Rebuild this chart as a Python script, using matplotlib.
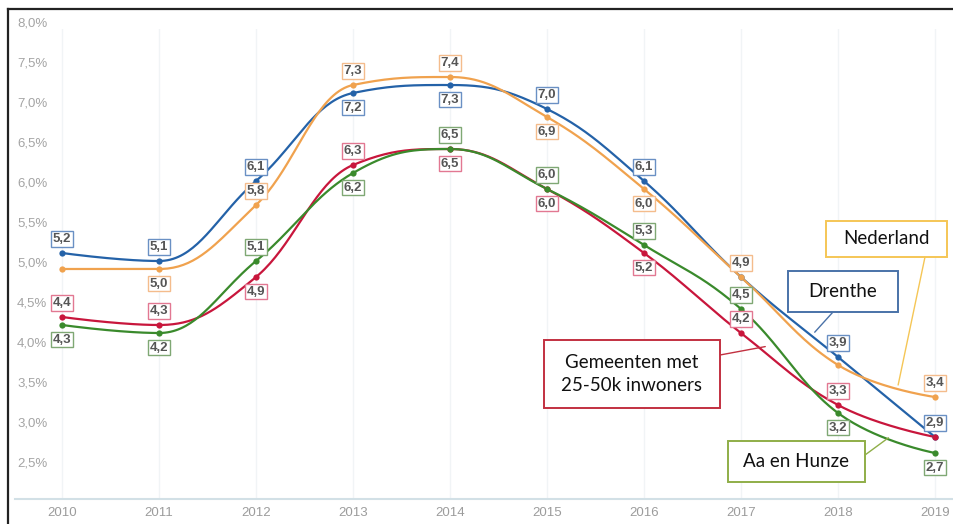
import matplotlib
matplotlib.use("Agg")
import matplotlib.pyplot as plt
from matplotlib.patches import Rectangle
from matplotlib.lines import Line2D
import numpy as np

# --- data ---
years = [2010, 2011, 2012, 2013, 2014, 2015, 2016, 2017, 2018, 2019]

drenthe = [5.2, 5.1, 6.1, 7.2, 7.3, 7.0, 6.1, 4.9, 3.9, 2.9]
nederland = [5.0, 5.0, 5.8, 7.3, 7.4, 6.9, 6.0, 4.9, 3.8, 3.4]
gemeenten = [4.4, 4.3, 4.9, 6.3, 6.5, 6.0, 5.2, 4.2, 3.3, 2.9]
aa_hunze = [4.3, 4.2, 5.1, 6.2, 6.5, 6.0, 5.3, 4.5, 3.2, 2.7]

# label placement: a = above, b = below, None = hidden
drenthe_lbl = ["a", "a", "a", "b", "b", "a", "a", None, "a", "a"]
nederland_lbl = [None, "b", "a", "a", "a", "b", "b", "a", None, "a"]
gemeenten_lbl = ["a", "a", "b", "a", "b", "b", "b", "a", "a", None]
aa_hunze_lbl = ["b", "b", "a", "b", "a", "a", "a", "a", "b", "b"]

y_ticks = [2.5, 3.0, 3.5, 4.0, 4.5, 5.0, 5.5, 6.0, 6.5, 7.0, 7.5, 8.0]

W, H = 954, 524

# (values, labels, line colour, label-box colour)
series = [
    (drenthe, drenthe_lbl, "#2462a8", "#6a90c4"),
    (nederland, nederland_lbl, "#f0a24e", "#f4bc8c"),
    (gemeenten, gemeenten_lbl, "#c8163c", "#e27892"),
    (aa_hunze, aa_hunze_lbl, "#3a8a2c", "#7fa874"),
]

# callouts: text, box (x0, y0, x1, y1) in image px from top-left, colour, leader start px, leader target (year, value)
callouts = [
    ("Nederland", (826, 221, 947, 257), "#f5c656", (925, 257), (2018.62, 3.55)),
    ("Drenthe", (788, 271, 898, 312), "#4a72a8", (833, 312), (2017.76, 4.21)),
    ("Gemeenten met\n25-50k inwoners", (544, 340, 720, 408), "#c23040", (720, 355), (2017.25, 4.03)),
    ("Aa en Hunze", (728, 441, 865, 482), "#8fae48", (865, 455), (2018.52, 2.89)),
]


def hc_spline(xs, ys, smoothing=1.5, steps=40):
    xs = np.asarray(xs, float)
    ys = np.asarray(ys, float)
    n = len(xs)
    lc = np.column_stack([xs, ys]).astype(float)
    rc = lc.copy()
    d = smoothing + 1
    for i in range(1, n - 1):
        px, py = xs[i], ys[i]
        lx, ly = xs[i - 1], ys[i - 1]
        nx, ny = xs[i + 1], ys[i + 1]
        lcx = (smoothing * px + lx) / d
        lcy = (smoothing * py + ly) / d
        rcx = (smoothing * px + nx) / d
        rcy = (smoothing * py + ny) / d
        corr = 0.0
        if rcx != lcx:
            corr = (rcy - lcy) * (rcx - px) / (rcx - lcx) + py - rcy
        lcy += corr
        rcy += corr
        if lcy > ly and lcy > py:
            lcy = max(ly, py)
            rcy = 2 * py - lcy
        elif lcy < ly and lcy < py:
            lcy = min(ly, py)
            rcy = 2 * py - lcy
        if rcy > ny and rcy > py:
            rcy = max(ny, py)
            lcy = 2 * py - rcy
        elif rcy < ny and rcy < py:
            rcy = min(ny, py)
            lcy = 2 * py - rcy
        lc[i] = (lcx, lcy)
        rc[i] = (rcx, rcy)
    t = np.linspace(0, 1, steps)[:, None]
    out = []
    for i in range(1, n):
        p0 = np.array([xs[i - 1], ys[i - 1]])
        p3 = np.array([xs[i], ys[i]])
        p1, p2 = rc[i - 1], lc[i]
        seg = ((1 - t) ** 3) * p0 + 3 * ((1 - t) ** 2) * t * p1 + 3 * (1 - t) * t ** 2 * p2 + t ** 3 * p3
        out.append(seg if i == 1 else seg[1:])
    out = np.vstack(out)
    return out[:, 0], out[:, 1]


def fmt(v):
    return f"{v:.1f}".replace(".", ",")


plt.rcParams.update({"font.family": ["Liberation Sans", "DejaVu Sans"]})

fig = plt.figure(figsize=(W / 100, H / 100), dpi=100, facecolor="white")
ax = fig.add_axes([15 / W, 25 / H, (W - 15) / W, 470 / H])
ax.set_xlim(2009.515, 2019.196)
ax.set_ylim(2.125, 8.0)
for s in ax.spines.values():
    s.set_visible(False)

for yr in years:
    ax.axvline(yr, color="#f1f4f6", linewidth=1, zorder=0)
ax.axhline(2.125, color="#d2e0e6", linewidth=1.5, zorder=1, clip_on=False)

ax.set_yticks([])
ax.set_xticks(years)
ax.set_xticklabels([str(y) for y in years], fontsize=9.5, color="#9c9c9c")
ax.tick_params(axis="x", length=0, pad=5.5)

for v in y_ticks:
    ax.annotate(f"{v:.1f}%".replace(".", ","), (0, v), xycoords=("axes fraction", "data"),
                xytext=(1.5, 0), textcoords="offset points", fontsize=9.5,
                color="#a4a4a4", ha="left", va="bottom")

for k, (vals, lbls, col, bcol) in enumerate(series):
    sx, sy = hc_spline(years, vals)
    ax.plot(sx, sy, color=col, linewidth=1.6, zorder=3 + k * 0.1, solid_capstyle="round")
    ax.plot(years, vals, "o", color=col, markersize=4.5, markeredgewidth=0, zorder=4 + k * 0.1)
    for yr, v, pos in zip(years, vals, lbls):
        if pos is None:
            continue
        dy = 10 if pos == "a" else -10.5
        ax.annotate(fmt(v), (yr, v), xytext=(0, dy), textcoords="offset points",
                    ha="center", va="center", fontsize=9.5, fontweight="bold",
                    color="#555555", zorder=6,
                    bbox=dict(boxstyle="square,pad=0.14", fc="white", ec=bcol, lw=1))

# callout boxes
for text, (x0, y0, x1, y1), col, (lx, ly), target in callouts:
    fig.patches.append(Rectangle((x0 / W, 1 - y1 / H), (x1 - x0) / W, (y1 - y0) / H,
                                 transform=fig.transFigure, fc="white", ec=col, lw=1.4, zorder=8))
    fig.text((x0 + x1) / 2 / W, 1 - (y0 + y1) / 2 / H, text, ha="center", va="center",
             fontsize=13.5, family="Lato", color="#111111", linespacing=1.4, zorder=9)
    ax.annotate("", xy=target, xycoords="data", xytext=(lx, H - ly), textcoords="figure pixels",
                arrowprops=dict(arrowstyle="-", color=col, lw=1, shrinkA=0, shrinkB=0), zorder=7)

# frame lines (left and top)
fig.lines.append(Line2D([8.5 / W, 8.5 / W], [0, 1 - 8.5 / H], transform=fig.transFigure,
                        color="#222222", linewidth=1.6))
fig.lines.append(Line2D([8.5 / W, 1], [1 - 8.5 / H, 1 - 8.5 / H], transform=fig.transFigure,
                        color="#222222", linewidth=1.6))

fig.savefig("out.png", dpi=100, facecolor="white")
